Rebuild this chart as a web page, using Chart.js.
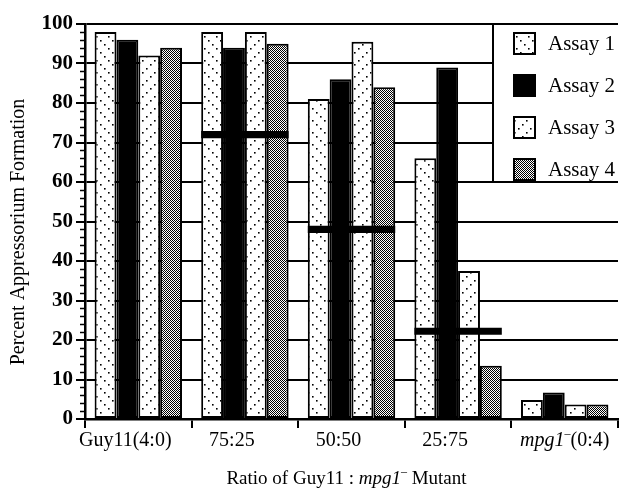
<!DOCTYPE html>
<html>
<head>
<meta charset="utf-8">
<script src="https://cdn.jsdelivr.net/npm/chart.js@4"></script>
<style>
html, body { margin: 0; padding: 0; background: #fff; }
#wrap { width: 622px; height: 492px; }
</style>
</head>
<body>
<div id="wrap"><canvas id="chart" width="622" height="492"></canvas></div>
<script>
const categories = ["Guy11(4:0)", "75:25", "50:50", "25:75", "mpg1⁻(0:4)"];
const seriesLabels = ["Assay 1", "Assay 2", "Assay 3", "Assay 4"];
const assay1 = [98, 98, 81, 66, 4.8];
const assay2 = [96, 94, 86, 89, 6.7];
const assay3 = [92, 98, 95.5, 37.5, 3.7];
const assay4 = [94, 95, 84, 13.5, 3.7];
const expected = [null, 72, 48, 22.2, null];
const xTitle = "Ratio of Guy11 : mpg1⁻ Mutant";
const yTitle = "Percent Appressorium Formation";

const SERIF = "'Liberation Serif', 'Times New Roman', serif";
const canvas = document.getElementById("chart");
const ctx = canvas.getContext("2d");

function makePattern(size, draw) {
    const c = document.createElement("canvas");
    c.width = size;
    c.height = size;
    const g = c.getContext("2d");
    g.fillStyle = "#fff";
    g.fillRect(0, 0, size, size);
    g.fillStyle = "#000";
    draw(g);
    return ctx.createPattern(c, "repeat");
}

// dotted diagonals, "\" for assay 1 and "/" for assay 3, fine stipple for assay 4
const dotsBack = makePattern(12, g => {
    [[0, 0], [4, 4], [8, 8]].forEach(([x, y]) => g.fillRect(x, y, 1.6, 1.6));
});
const dotsFwd = makePattern(12, g => {
    [[10, 0], [6, 4], [2, 8]].forEach(([x, y]) => g.fillRect(x, y, 1.6, 1.6));
});
const stipple = makePattern(2, g => {
    g.fillRect(0, 0, 1, 1);
    g.fillRect(1, 1, 1, 1);
});
const fills = [dotsBack, "#000", dotsFwd, stipple];

function toParts(s) {
    const idx = s.indexOf("mpg1⁻");
    if (idx < 0) return [{ t: s }];
    const parts = [];
    if (idx > 0) parts.push({ t: s.slice(0, idx) });
    parts.push({ t: "mpg1", it: true });
    parts.push({ t: "–", sup: true });
    const rest = s.slice(idx + 5);
    if (rest) parts.push({ t: rest });
    return parts;
}

function partFont(p, size) {
    const sz = p.sup ? Math.round(size * 0.62) : size;
    return (p.it ? "italic " : "") + sz + "px " + SERIF;
}

function drawParts(c, parts, x, y, size, align) {
    let total = 0;
    parts.forEach(p => {
        c.font = partFont(p, size);
        p.w = c.measureText(p.t).width;
        total += p.w;
    });
    let cx = align === "center" ? x - total / 2 : (align === "right" ? x - total : x);
    c.textAlign = "left";
    c.textBaseline = "middle";
    parts.forEach(p => {
        c.font = partFont(p, size);
        c.fillText(p.t, cx, p.sup ? y - size * 0.38 : y);
        cx += p.w;
    });
}

const decor = {
    id: "decor",
    afterDraw(chart) {
        const c = chart.ctx;
        const area = chart.chartArea;
        const xs = chart.scales.x;
        const ys = chart.scales.y;
        c.save();
        c.fillStyle = "#000";
        c.strokeStyle = "#000";

        // minor ticks every 2 units
        c.lineWidth = 1.5;
        for (let v = 2; v < 100; v += 2) {
            if (v % 10 === 0) continue;
            const py = Math.round(ys.getPixelForValue(v)) + 0.5;
            c.beginPath();
            c.moveTo(area.left - 5, py);
            c.lineTo(area.left, py);
            c.stroke();
        }

        // category labels
        categories.forEach((lab, i) => {
            const px = xs.getPixelForValue(i) + (i < categories.length - 1 ? -13 : 0);
            drawParts(c, toParts(lab), px, area.bottom + 22, 20, "center");
        });

        // axis titles
        drawParts(c, toParts(xTitle), (area.left + area.right) / 2 - 5, area.bottom + 60, 19, "center");
        c.save();
        c.translate(19, 232);
        c.rotate(-Math.PI / 2);
        drawParts(c, [{ t: yTitle }], 0, 0, 20, "center");
        c.restore();

        // legend box in the upper right
        const bx = area.right - 125;
        const by = area.top;
        const bb = ys.getPixelForValue(60);
        c.fillStyle = "#fff";
        c.fillRect(bx, by + 1, chart.width - bx, bb - by - 2);
        c.lineWidth = 2;
        c.beginPath();
        c.moveTo(bx, by);
        c.lineTo(bx, bb);
        c.stroke();
        seriesLabels.forEach((lab, i) => {
            const cy = by + 19 + i * 42;
            const sx = bx + 20;
            c.fillStyle = fills[i];
            c.fillRect(sx, cy - 11, 23, 23);
            c.lineWidth = 2;
            c.strokeRect(sx + 1, cy - 10, 21, 21);
            c.fillStyle = "#000";
            drawParts(c, [{ t: lab }], sx + 35, cy + 1, 21, "left");
        });
        c.restore();
    }
};

const barSets = [assay1, assay2, assay3, assay4].map((data, i) => ({
    label: seriesLabels[i],
    data: data,
    backgroundColor: fills[i],
    borderColor: "#000",
    borderWidth: 2,
    borderSkipped: false,
    categoryPercentage: 0.82,
    barPercentage: 1,
    order: 1
}));

new Chart(ctx, {
    type: "bar",
    data: {
        labels: categories,
        datasets: [
            ...barSets,
            {
                label: "Expected",
                data: expected.map(v => v == null ? null : [v - 0.9, v + 0.9]),
                grouped: false,
                categoryPercentage: 0.82,
                barPercentage: 1,
                backgroundColor: "#000",
                borderWidth: 0,
                order: 0
            }
        ]
    },
    options: {
        responsive: false,
        animation: false,
        devicePixelRatio: 1,
        layout: { padding: { top: 24, right: 4, left: 0, bottom: 0 } },
        plugins: { legend: { display: false }, tooltip: { enabled: false } },
        scales: {
            x: {
                offset: true,
                grid: { offset: true, drawOnChartArea: false, drawTicks: true, tickLength: 9, color: "#000", lineWidth: 2 },
                border: { color: "#000", width: 2.5 },
                ticks: { display: false },
                afterFit: s => { s.height = 73; }
            },
            y: {
                min: 0,
                max: 100,
                ticks: {
                    stepSize: 10,
                    color: "#000",
                    padding: 3,
                    font: { family: SERIF, size: 21, weight: "bold" }
                },
                grid: { color: "#000", lineWidth: 2, tickLength: 9 },
                border: { color: "#000", width: 2.5 },
                afterFit: s => { s.width = 85; }
            }
        }
    },
    plugins: [decor]
});
</script>
</body>
</html>
